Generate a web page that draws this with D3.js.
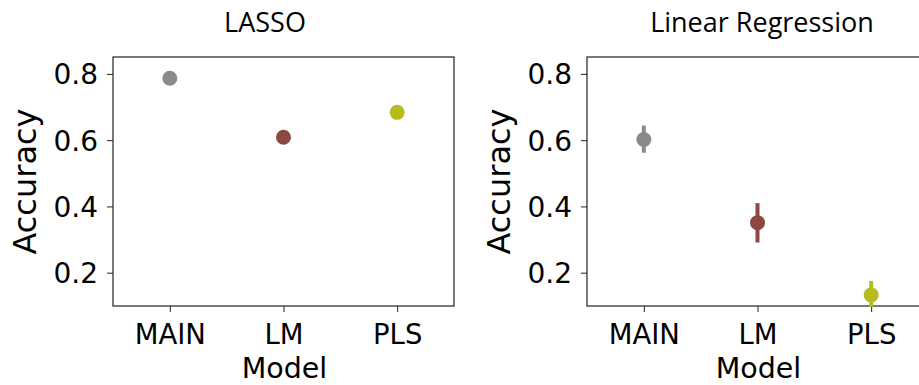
<!DOCTYPE html>
<html>
<head>
<meta charset="utf-8">
<script src="https://cdn.jsdelivr.net/npm/d3@7"></script>
<style>
  body { margin: 0; background: #fff; overflow: hidden; }
  text { font-family: "DejaVu Sans", sans-serif; fill: #000; }
  .title { font-family: "Open Sans", "Noto Sans", sans-serif; }
</style>
</head>
<body>
<script>
// data
var models = ["MAIN", "LM", "PLS"];
var colors = ["#8a8a8a", "#8a4a42", "#b5bd1c"];
var yTicks = [0.2, 0.4, 0.6, 0.8];

var lassoMean = [0.787, 0.609, 0.684];
var linMean = [0.602, 0.351, 0.133];
var linLow = [0.562, 0.291, 0.097];
var linHigh = [0.644, 0.410, 0.175];

var panels = [
  { title: "LASSO", left: 113, titleX: 265, mean: lassoMean, low: null, high: null },
  { title: "Linear Regression", left: 587, titleX: 762, mean: linMean, low: linLow, high: linHigh }
];

function draw() {
  var w = 919, h = 385;
  var pw = 341, top = 57, bottom = 306;
  var svg = d3.select("body").append("svg")
    .attr("width", w)
    .attr("height", h);

  var y = d3.scaleLinear().domain([0.0995, 0.851]).range([bottom, top]);

  panels.forEach(function(p) {
    var x = d3.scaleLinear().domain([-0.5, 2.5]).range([p.left, p.left + pw]);
    var g = svg.append("g");

    // frame
    g.append("rect")
      .attr("x", p.left).attr("y", top)
      .attr("width", pw).attr("height", bottom - top)
      .attr("fill", "#fff").attr("stroke", "#222").attr("stroke-width", 1.2);

    // y axis
    var ya = g.append("g")
      .attr("transform", "translate(" + p.left + ",0)")
      .call(d3.axisLeft(y).tickValues(yTicks).tickFormat(d3.format(".1f")).tickSize(6).tickPadding(9));
    ya.select(".domain").remove();
    ya.selectAll("text").style("font-size", "28px").attr("dy", "0.36em");
    ya.selectAll("line").attr("stroke", "#222");

    // x axis
    var xa = g.append("g")
      .attr("transform", "translate(0," + bottom + ")")
      .call(d3.axisBottom(x).tickValues([0, 1, 2]).tickFormat(function(d) { return models[d]; }).tickSize(6).tickPadding(10));
    xa.select(".domain").remove();
    xa.selectAll("text").style("font-size", "27.5px").attr("dy", "0.8em");
    xa.selectAll("line").attr("stroke", "#222");

    // axis labels
    g.append("text")
      .attr("x", p.left + pw / 2 + 1).attr("y", 378)
      .attr("text-anchor", "middle")
      .style("font-size", "28.5px")
      .text("Model");
    g.append("text")
      .attr("transform", "translate(" + (p.left - 77) + "," + ((top + bottom) / 2) + ") rotate(-90)")
      .attr("text-anchor", "middle")
      .style("font-size", "32px")
      .text("Accuracy");

    // title
    g.append("text")
      .attr("class", "title")
      .attr("x", p.titleX).attr("y", 32)
      .attr("text-anchor", "middle")
      .style("font-size", "27px")
      .text(p.title);

    // error bars
    if (p.low) {
      g.selectAll("line.err")
        .data(models)
        .enter()
        .append("line")
        .attr("class", "err")
        .attr("x1", function(d, i) { return x(i); })
        .attr("x2", function(d, i) { return x(i); })
        .attr("y1", function(d, i) { return y(p.low[i]); })
        .attr("y2", function(d, i) { return y(p.high[i]); })
        .attr("stroke", function(d, i) { return colors[i]; })
        .attr("stroke-width", 4);
    }

    // points
    g.selectAll("circle.pt")
      .data(p.mean)
      .enter()
      .append("circle")
      .attr("class", "pt")
      .attr("cx", function(d, i) { return x(i); })
      .attr("cy", function(d) { return y(d); })
      .attr("r", 7.5)
      .attr("fill", function(d, i) { return colors[i]; });
  });
}

window.onload = draw;
</script>
</body>
</html>
